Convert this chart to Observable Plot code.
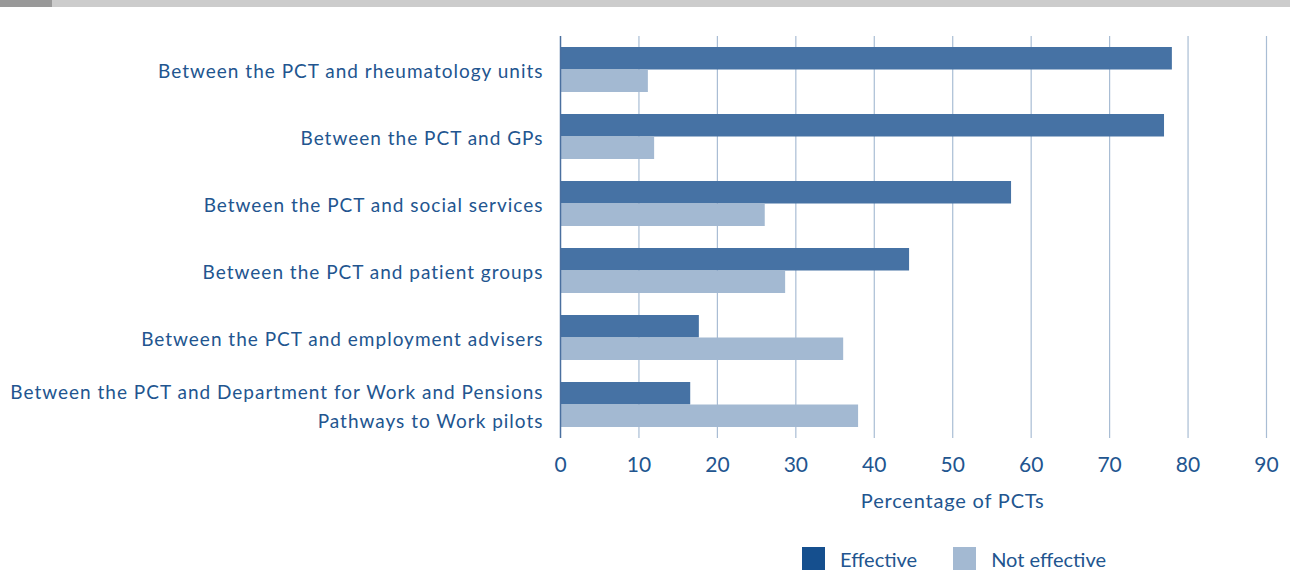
<!DOCTYPE html>
<html>
<head>
<meta charset="utf-8">
<script src="https://cdn.jsdelivr.net/npm/d3@7"></script>
<script src="https://cdn.jsdelivr.net/npm/@observablehq/plot@0.6"></script>
<style>
  html, body { margin: 0; padding: 0; background: #fff; }
  body { width: 1290px; height: 571px; position: relative; overflow: hidden; font-family: Lato, "Open Sans", sans-serif; }
  #strip { position: absolute; left: 0; top: 0; width: 1290px; height: 7px; background: #cccccc; }
  #strip .dark { position: absolute; left: 0; top: 0; width: 52px; height: 7px; background: #999999; }
  #chart { position: absolute; left: 0; top: 0; }
  #legend { position: absolute; top: 547px; left: 802px; height: 23px; display: flex; align-items: center; font-size: 20px; color: #22558f; }
  #legend .sw { width: 23px; height: 23px; display: inline-block; }
  #legend .item { display: flex; align-items: center; }
</style>
</head>
<body>
<div id="chart"></div>
<div id="strip"><div class="dark"></div></div>
<div id="legend">
  <span class="item"><span class="sw" style="background:#154f8e"></span><span style="margin-left:15px">Effective</span></span>
  <span class="item" style="margin-left:36px"><span class="sw" style="background:#a3b9d2"></span><span style="margin-left:15px">Not effective</span></span>
</div>
<script>
const categories = [
  "Between the PCT and rheumatology units",
  "Between the PCT and GPs",
  "Between the PCT and social services",
  "Between the PCT and patient groups",
  "Between the PCT and employment advisers",
  "Between the PCT and Department for Work and Pensions\nPathways to Work pilots"
];
const effective = [78, 77, 57.5, 44.5, 17.7, 16.6];
const notEffective = [11.2, 12, 26.1, 28.7, 36.1, 38];
const xTicks = [0, 10, 20, 30, 40, 50, 60, 70, 80, 90];
const seriesNames = ["Effective", "Not effective"];

const effData = categories.map((c, i) => ({category: c, value: effective[i], series: seriesNames[0]}));
const notData = categories.map((c, i) => ({category: c, value: notEffective[i], series: seriesNames[1]}));

const textColor = "#22558f";
const band = 45;

const chart = Plot.plot({
  width: 1290,
  height: 530,
  marginTop: 36,
  marginBottom: 92,
  marginLeft: 560,
  marginRight: 24,
  style: {fontFamily: "Lato, 'Open Sans', sans-serif", color: textColor, background: "transparent"},
  x: {domain: [0, 90], ticks: xTicks},
  y: {domain: categories, paddingInner: 0.328, paddingOuter: 0.164, axis: null},
  marks: [
    Plot.gridX(xTicks.filter(d => d > 0), {stroke: "#a9bdd4", strokeOpacity: 1, strokeWidth: 1.2}),
    Plot.barX(effData, {x: "value", y: "category", fill: "#4672a4", insetBottom: band / 2}),
    Plot.barX(notData, {x: "value", y: "category", fill: "#a3b9d2", insetTop: band / 2}),
    Plot.ruleX([0], {stroke: "#4a6f9f", strokeWidth: 1.5}),
    Plot.axisX(xTicks, {tickSize: 0, tickPadding: 19, fontSize: 21, fill: textColor, label: null}),
    Plot.text(["Percentage of PCTs"], {x: 50, frameAnchor: "bottom", dy: 69, fontSize: 20, fill: textColor}),
    Plot.text(categories, {y: d => d, text: d => d, frameAnchor: "left", textAnchor: "end", dx: -17, dy: -1, fontSize: 19, lineHeight: 1.53, fill: textColor})
  ]
});
const textGroups = chart.querySelectorAll("g[aria-label='text']");
textGroups[textGroups.length - 1].setAttribute("letter-spacing", "1px");
textGroups[textGroups.length - 2].setAttribute("letter-spacing", "0.8px");
document.getElementById("chart").appendChild(chart);
</script>
</body>
</html>
